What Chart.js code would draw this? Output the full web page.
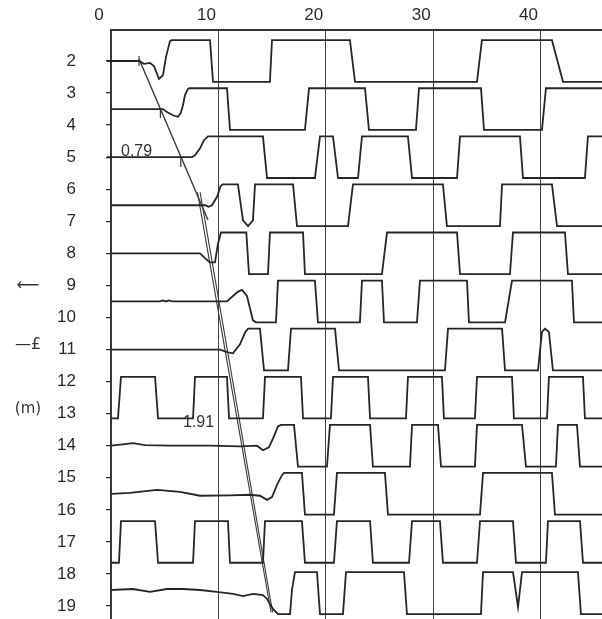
<!DOCTYPE html>
<html><head><meta charset="utf-8">
<script src="https://cdn.jsdelivr.net/npm/chart.js@4.4.1/dist/chart.umd.min.js"></script>
<style>html,body{margin:0;padding:0;background:#fff;overflow:hidden}canvas{display:block}</style>
</head><body>
<canvas id="c" width="602" height="619"></canvas>
<script>
// ---- tick labels ----
const xTicks = [0, 10, 20, 30, 40];
const yTicks = [2, 3, 4, 5, 6, 7, 8, 9, 10, 11, 12, 13, 14, 15, 16, 17, 18, 19];

// ---- traces: [time, depth] ----
const trace01 = [[-0.37,2],[2.61,2],[3.07,2.09],[3.63,2.06],[4.0,2.16],[4.47,2.56],[4.84,2.44],[5.12,1.88],[5.49,1.38],[5.68,1.35],[9.22,1.35],[9.5,2.65],[14.8,2.65],[14.99,1.35],[22.25,1.35],[22.72,2.65],[34.08,2.65],[34.54,1.35],[41.06,1.35],[42.09,2.65],[47,2.65]];
const trace02 = [[0,3.5],[4.84,3.5],[5.21,3.59],[5.8,3.7],[6.24,3.74],[6.5,3.62],[6.7,3.38],[6.89,3.06],[7.17,2.87],[7.3,2.85],[10.8,2.85],[11.08,4.15],[18.06,4.15],[18.44,2.85],[23.65,2.85],[24.02,4.15],[28.4,4.15],[28.68,2.85],[34.45,2.85],[34.73,4.15],[40.13,4.15],[40.5,2.85],[47,2.85]];
const trace03 = [[-0.37,5],[7.54,5],[7.82,4.94],[8.29,4.72],[8.66,4.47],[9.03,4.35],[14.15,4.35],[14.53,5.65],[18.99,5.65],[19.46,4.35],[20.67,4.35],[21.14,5.65],[23.0,5.65],[23.37,4.35],[27.65,4.35],[28.03,5.65],[32.22,5.65],[32.5,4.35],[38.08,4.35],[38.36,5.65],[44.13,5.65],[44.41,4.35],[47,4.35]];
const trace04 = [[0,6.5],[8.75,6.5],[9.1,6.55],[9.4,6.5],[9.9,6.22],[10.2,5.9],[10.4,5.85],[11.82,5.85],[12.29,6.97],[12.76,7.15],[13.22,6.97],[13.41,5.85],[16.95,5.85],[17.32,7.15],[22.07,7.15],[22.53,5.85],[30.91,5.85],[31.28,7.15],[36.22,7.15],[36.41,5.85],[41.06,5.85],[41.53,7.15],[47,7.15]];
const trace05 = [[0,8],[8.29,8],[8.75,8.15],[9.2,8.28],[9.68,8.28],[9.96,7.7],[10.24,7.35],[12.6,7.35],[12.85,8.65],[14.62,8.65],[14.8,7.35],[17.88,7.35],[18.06,8.65],[25.23,8.65],[25.7,7.35],[32.22,7.35],[32.5,8.65],[37.15,8.65],[37.43,7.35],[42.27,7.35],[42.55,8.65],[47,8.65]];
const trace06 = [[0,9.5],[4.56,9.5],[4.84,9.47],[5.12,9.5],[5.4,9.47],[5.68,9.5],[10.8,9.5],[11.36,9.33],[11.8,9.2],[12.2,9.14],[12.66,9.33],[13.22,10.09],[13.5,10.15],[15.36,10.15],[15.55,8.85],[18.99,8.85],[19.27,10.15],[23.18,10.15],[23.37,8.85],[25.23,8.85],[25.42,10.15],[28.49,10.15],[28.77,8.85],[33.15,8.85],[33.33,10.15],[36.69,10.15],[37.34,8.85],[42.92,8.85],[43.11,10.15],[47,10.15]];
const trace07 = [[0,11],[10.15,11],[10.89,11.09],[11.36,11.12],[12.01,10.84],[12.48,10.47],[12.76,10.35],[13.87,10.35],[14.25,11.65],[16.48,11.65],[16.76,10.35],[20.86,10.35],[21.23,11.65],[31.1,11.65],[31.38,10.35],[36.41,10.35],[36.69,11.65],[39.76,11.65],[40.13,10.45],[40.41,10.35],[40.78,10.45],[41.15,11.65],[47,11.65]];
const trace08 = [[0,13.15],[0.65,13.15],[0.93,11.85],[4.1,11.85],[4.38,13.15],[7.64,13.15],[7.82,11.85],[10.8,11.85],[10.99,13.15],[14.15,13.15],[14.34,11.85],[17.69,11.85],[17.88,13.15],[20.48,13.15],[20.67,11.85],[23.93,11.85],[24.12,13.15],[27.47,13.15],[27.65,11.85],[30.82,11.85],[31.0,13.15],[33.89,13.15],[34.08,11.85],[37.34,11.85],[37.52,13.15],[40.6,13.15],[40.78,11.85],[43.95,11.85],[44.13,13.15],[47,13.15]];
const trace09 = [[0,14],[1.3,13.95],[2.05,13.92],[3.17,13.98],[5.49,14.0],[9.2,14.0],[12.0,14.02],[13.6,14.0],[14.15,14.14],[14.7,14.05],[15.08,13.78],[15.55,13.4],[15.83,13.35],[17.04,13.35],[17.41,14.65],[20.11,14.65],[20.39,13.35],[24.12,13.35],[24.39,14.65],[27.84,14.65],[28.03,13.35],[30.45,13.35],[30.73,14.65],[33.89,14.65],[34.08,13.35],[38.27,13.35],[38.64,14.65],[41.43,14.65],[41.62,13.35],[43.39,13.35],[43.67,14.65],[47,14.65]];
const trace10 = [[0,15.5],[1.77,15.47],[4.28,15.38],[6.42,15.44],[8.29,15.56],[11.08,15.55],[12.94,15.53],[13.87,15.56],[14.53,15.69],[14.99,15.6],[15.46,15.22],[15.92,14.92],[16.11,14.85],[17.78,14.85],[18.06,16.15],[20.76,16.15],[21.04,14.85],[25.51,14.85],[25.79,16.15],[34.36,16.15],[34.64,14.85],[41.06,14.85],[41.34,16.15],[47,16.15]];
const trace11 = [[0,17.65],[0.74,17.65],[0.93,16.35],[4.1,16.35],[4.38,17.65],[7.64,17.65],[7.82,16.35],[10.89,16.35],[11.08,17.65],[14.15,17.65],[14.34,16.35],[17.78,16.35],[18.06,17.65],[20.76,17.65],[21.04,16.35],[24.12,16.35],[24.39,17.65],[27.75,17.65],[28.03,16.35],[30.63,16.35],[30.91,17.65],[34.08,17.65],[34.36,16.35],[37.43,16.35],[37.71,17.65],[40.5,17.65],[40.69,16.35],[43.67,16.35],[43.95,17.65],[47,17.65]];
const trace12 = [[0,18.5],[2.05,18.47],[3.63,18.56],[5.21,18.47],[6.7,18.47],[8.29,18.5],[9.87,18.56],[11.36,18.62],[12.29,18.69],[13.22,18.62],[14.15,18.66],[14.53,18.78],[15.08,19.09],[15.55,19.25],[16.67,19.25],[16.85,18.5],[17.13,17.94],[19.18,17.94],[19.46,19.25],[21.6,19.25],[21.88,17.94],[27.28,17.94],[27.56,19.25],[34.45,19.25],[34.64,17.94],[37.43,17.94],[37.9,19.03],[38.27,17.94],[43.48,17.94],[43.76,19.25],[47,19.25]];
const traces = [trace01,trace02,trace03,trace04,trace05,trace06,trace07,trace08,trace09,trace10,trace11,trace12];

// ---- picked arrival lines (time, depth) ----
const velocityLine1 = [[2.61,1.94],[9.03,6.96]];
const velocityLine2a = [[8.05,6.1],[14.9,19.2]];
const velocityLine2b = [[8.3,6.1],[15.05,19.2]];
const pickMarks = [[2.61,2.0],[4.6,3.62],[6.5,5.15]];
const velocityLabels = ['0.79', '1.91'];
const velocityLabelAt = [[0.93,4.95],[6.7,13.42]];
const axisTitleParts = ['\u27F5', '\u2014\u00A3', '(m)'];
const axisTitleDepth = [9.0, 10.86, 12.85];

const INK = '#262626';
const toXY = a => a.map(p => ({x:p[0], y:p[1]}));
const datasets = traces.map(t => ({data: toXY(t), showLine:true, borderColor:INK, borderWidth:1.8, pointRadius:0, clip:{left:6,top:0,right:0,bottom:0}}));
[velocityLine1, velocityLine2a, velocityLine2b].forEach((l,i) => datasets.push({data: toXY(l), showLine:true, borderColor:'#3a3a3a', borderWidth: i===0?1.4:1.1, pointRadius:0}));
datasets.push({data: toXY(pickMarks), showLine:false, pointStyle:'line', rotation:90, pointRadius:5, borderColor:'#3a3a3a', borderWidth:1.2, backgroundColor:'#3a3a3a'});

const annot = {
  id: 'annot',
  afterDatasetsDraw(chart) {
    const {ctx, scales:{x, y}} = chart;
    ctx.save();
    ctx.fillStyle = '#333';
    ctx.font = '16px "Liberation Sans", Arial, sans-serif';
    ctx.textAlign = 'left';
    ctx.textBaseline = 'alphabetic';
    velocityLabels.forEach((s,i) => ctx.fillText(s, x.getPixelForValue(velocityLabelAt[i][0]), y.getPixelForValue(velocityLabelAt[i][1])));
    ctx.textAlign = 'center';
    ctx.textBaseline = 'middle';
    axisTitleParts.forEach((s,i) => {
      ctx.font = (i===2 ? '15px' : '16px') + ' "DejaVu Sans", "Liberation Sans", sans-serif';
      ctx.fillText(s, 28, y.getPixelForValue(axisTitleDepth[i]));
    });
    ctx.restore();
  }
};

new Chart(document.getElementById('c'), {
  type: 'scatter',
  data: {datasets},
  options: {
    responsive: false, animation: false, events: [],
    devicePixelRatio: 1,
    layout: {padding: 0, autoPadding: false},
    plugins: {legend:{display:false}, tooltip:{enabled:false}},
    scales: {
      x: {
        type:'linear', position:'top', min:0, max:45.72,
        afterBuildTicks: s => { s.ticks = xTicks.map(v => ({value:v})); },
        afterFit: s => { s.height = 30; s.paddingLeft = 0; s.paddingRight = 0; },
        ticks: {labelOffset:-12, padding:4, color:'#2a2a2a', font:{family:'"Liberation Sans", Arial, sans-serif', size:17}},
        grid: {color:'#444', lineWidth:1, drawTicks:false},
        border: {display:true, color:'#333', width:2}
      },
      y: {
        type:'linear', position:'left', reverse:true, min:1.033, max:19.405,
        afterBuildTicks: s => { s.ticks = yTicks.map(v => ({value:v})); },
        afterFit: s => { s.width = 111; s.paddingTop = 0; s.paddingBottom = 0; },
        ticks: {padding:30, color:'#2a2a2a', font:{family:'"Liberation Sans", Arial, sans-serif', size:17}},
        grid: {drawOnChartArea:false, drawTicks:true, tickLength:5, color:'#333', lineWidth:1.3},
        border: {display:true, color:'#333', width:1.5}
      }
    }
  },
  plugins: [annot]
});
</script>
</body></html>
